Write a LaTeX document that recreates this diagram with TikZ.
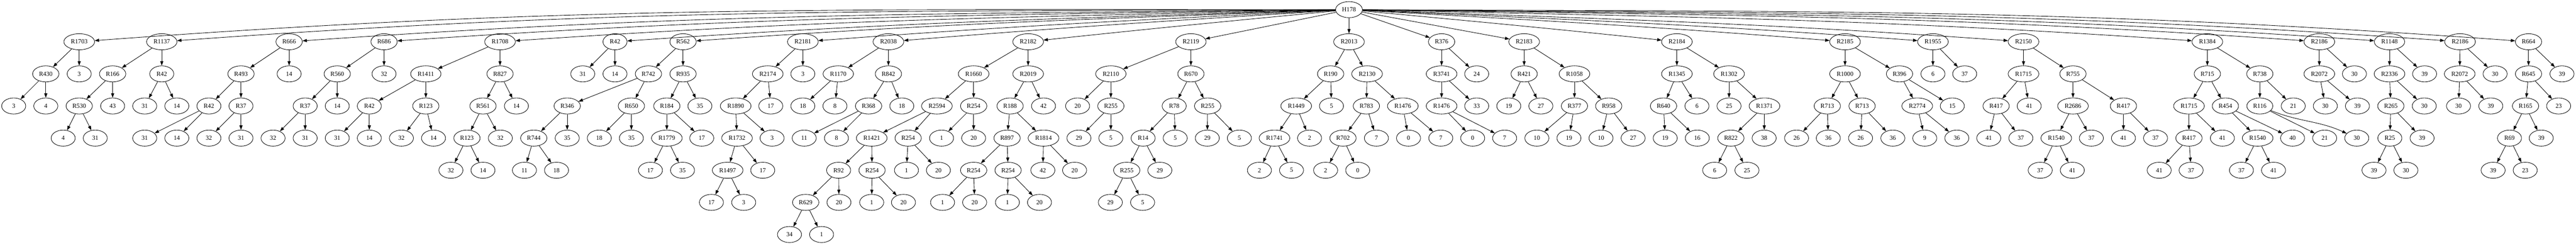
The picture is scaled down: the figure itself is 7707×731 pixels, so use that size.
\documentclass[tikz,border=0pt]{standalone}
\usepackage{fontspec}
\setmainfont{Liberation Serif}
\usetikzlibrary{shapes.geometric,arrows.meta}
\newcommand\nodefont{\fontsize{1.867pt}{2.2pt}\selectfont}
\begin{document}
\begin{tikzpicture}[x=0.1pt,y=-0.1pt,
 nd/.style={draw,ellipse,line width=0.133pt,minimum width=7.2pt,minimum height=4.8pt,inner xsep=0.76pt,inner ysep=0.2pt,font=\nodefont},
 ed/.style={line width=0.133pt,-{Triangle[length=1.33pt,width=0.93pt]}}]
\useasboundingbox (0,0) rectangle (7707,731);
\fill[white] (0,0) rectangle (7707,731);
% rank 0
\node[nd] (h) at (4036,28.8) {H178};
% rank 1
\node[nd] (a1) at (237,124.8) {R1703};
\node[nd] (a2) at (484,124.8) {R1137};
\node[nd] (a3) at (865,124.8) {R666};
\node[nd] (a4) at (1149,124.8) {R686};
\node[nd] (a5) at (1496,124.8) {R1708};
\node[nd] (a6) at (1840,124.8) {R42};
\node[nd] (a7) at (2043.5,124.8) {R562};
\node[nd] (a8) at (2402,124.8) {R2181};
\node[nd] (a9) at (2658,124.8) {R2038};
\node[nd] (a10) at (3076,124.8) {R2182};
\node[nd] (a11) at (3563,124.8) {R2119};
\node[nd] (a12) at (4036,124.8) {R2013};
\node[nd] (a13) at (4313,124.8) {R376};
\node[nd] (a14) at (4560,124.8) {R2183};
\node[nd] (a15) at (5017,124.8) {R2184};
\node[nd] (a16) at (5520,124.8) {R2185};
\node[nd] (a17) at (5783,124.8) {R1955};
\node[nd] (a18) at (6054,124.8) {R2150};
\node[nd] (a19) at (6604,124.8) {R1384};
\node[nd] (a20) at (6939,124.8) {R2186};
\node[nd] (a21) at (7149,124.8) {R1148};
\node[nd] (a22) at (7360,124.8) {R2186};
\node[nd] (a23) at (7565,124.8) {R664};
% rank 2
\node[nd] (b1) at (137,220.8) {R430};
\node[nd] (b2) at (237,220.8) {3};
\node[nd] (b3) at (337,220.8) {R166};
\node[nd] (b4) at (484,220.8) {R42};
\node[nd] (b5) at (721,220.8) {R493};
\node[nd] (b6) at (865,220.8) {14};
\node[nd] (b7) at (1009,220.8) {R560};
\node[nd] (b8) at (1149,220.8) {32};
\node[nd] (b9) at (1274,220.8) {R1411};
\node[nd] (b10) at (1496,220.8) {R827};
\node[nd] (b11) at (1743.5,220.8) {31};
\node[nd] (b12) at (1840,220.8) {14};
\node[nd] (b13) at (1940,220.8) {R742};
\node[nd] (b14) at (2043.5,220.8) {R935};
\node[nd] (b15) at (2297,220.8) {R2174};
\node[nd] (b16) at (2402,220.8) {3};
\node[nd] (b17) at (2508,220.8) {R1170};
\node[nd] (b18) at (2658,220.8) {R842};
\node[nd] (b19) at (2913,220.8) {R1660};
\node[nd] (b20) at (3076,220.8) {R2019};
\node[nd] (b21) at (3323.5,220.8) {R2110};
\node[nd] (b22) at (3563,220.8) {R670};
\node[nd] (b23) at (3981,220.8) {R190};
\node[nd] (b24) at (4090,220.8) {R2130};
\node[nd] (b25) at (4313,220.8) {R3741};
\node[nd] (b26) at (4418,220.8) {24};
\node[nd] (b27) at (4560,220.8) {R421};
\node[nd] (b28) at (4710.5,220.8) {R1058};
\node[nd] (b29) at (5017,220.8) {R1345};
\node[nd] (b30) at (5173,220.8) {R1302};
\node[nd] (b31) at (5520,220.8) {R1000};
\node[nd] (b32) at (5683,220.8) {R396};
\node[nd] (b33) at (5783,220.8) {6};
\node[nd] (b34) at (5878,220.8) {37};
\node[nd] (b35) at (6054,220.8) {R1715};
\node[nd] (b36) at (6202,220.8) {R755};
\node[nd] (b37) at (6604,220.8) {R715};
\node[nd] (b38) at (6761,220.8) {R738};
\node[nd] (b39) at (6939,220.8) {R2072};
\node[nd] (b40) at (7044,220.8) {30};
\node[nd] (b41) at (7149,220.8) {R2336};
\node[nd] (b42) at (7254,220.8) {39};
\node[nd] (b43) at (7359,220.8) {R2072};
\node[nd] (b44) at (7465,220.8) {30};
\node[nd] (b45) at (7565,220.8) {R645};
\node[nd] (b46) at (7665,220.8) {39};
% rank 3
\node[nd] (c1) at (41,316.8) {3};
\node[nd] (c2) at (137,316.8) {4};
\node[nd] (c3) at (237,316.8) {R530};
\node[nd] (c4) at (337,316.8) {43};
\node[nd] (c5) at (433,316.8) {31};
\node[nd] (c6) at (529,316.8) {14};
\node[nd] (c7) at (625,316.8) {R42};
\node[nd] (c8) at (721,316.8) {R37};
\node[nd] (c9) at (913,316.8) {R37};
\node[nd] (c10) at (1009,316.8) {14};
\node[nd] (c11) at (1105,316.8) {R42};
\node[nd] (c12) at (1274,316.8) {R123};
\node[nd] (c13) at (1445,316.8) {R561};
\node[nd] (c14) at (1545,316.8) {14};
\node[nd] (c15) at (1697,316.8) {R346};
\node[nd] (c16) at (1889,316.8) {R650};
\node[nd] (c17) at (1995,316.8) {R184};
\node[nd] (c18) at (2094,316.8) {35};
\node[nd] (c19) at (2201,316.8) {R1890};
\node[nd] (c20) at (2306,316.8) {17};
\node[nd] (c21) at (2402,316.8) {18};
\node[nd] (c22) at (2498,316.8) {8};
\node[nd] (c23) at (2598.6,316.8) {R368};
\node[nd] (c24) at (2698,316.8) {18};
\node[nd] (c25) at (2803,316.8) {R2594};
\node[nd] (c26) at (2913,316.8) {R254};
\node[nd] (c27) at (3022,316.8) {R188};
\node[nd] (c28) at (3122,316.8) {42};
\node[nd] (c29) at (3224,316.8) {20};
\node[nd] (c30) at (3323.5,316.8) {R255};
\node[nd] (c31) at (3513,316.8) {R78};
\node[nd] (c32) at (3613,316.8) {R255};
\node[nd] (c33) at (3878,316.8) {R1449};
\node[nd] (c34) at (3983.5,316.8) {5};
\node[nd] (c35) at (4088,316.8) {R783};
\node[nd] (c36) at (4197,316.8) {R1476};
\node[nd] (c37) at (4313,316.8) {R1476};
\node[nd] (c38) at (4418,316.8) {33};
\node[nd] (c39) at (4514,316.8) {19};
\node[nd] (c40) at (4610,316.8) {27};
\node[nd] (c41) at (4710.5,316.8) {R377};
\node[nd] (c42) at (4813,316.8) {R958};
\node[nd] (c43) at (4977,316.8) {R640};
\node[nd] (c44) at (5077,316.8) {6};
\node[nd] (c45) at (5173,316.8) {25};
\node[nd] (c46) at (5279,316.8) {R1371};
\node[nd] (c47) at (5467,316.8) {R713};
\node[nd] (c48) at (5571,316.8) {R713};
\node[nd] (c49) at (5736,316.8) {R2774};
\node[nd] (c50) at (5841,316.8) {15};
\node[nd] (c51) at (5972,316.8) {R417};
\node[nd] (c52) at (6071,316.8) {41};
\node[nd] (c53) at (6202,316.8) {R2686};
\node[nd] (c54) at (6353,316.8) {R417};
\node[nd] (c55) at (6549,316.8) {R1715};
\node[nd] (c56) at (6658,316.8) {R454};
\node[nd] (c57) at (6761,316.8) {R116};
\node[nd] (c58) at (6861,316.8) {21};
\node[nd] (c59) at (6957,316.8) {30};
\node[nd] (c60) at (7053,316.8) {39};
\node[nd] (c61) at (7153,316.8) {R265};
\node[nd] (c62) at (7253,316.8) {30};
\node[nd] (c63) at (7355.5,316.8) {30};
\node[nd] (c64) at (7452,316.8) {39};
\node[nd] (c65) at (7556,316.8) {R165};
\node[nd] (c66) at (7655,316.8) {23};
% rank 4
\node[nd] (d1) at (189,412.8) {4};
\node[nd] (d2) at (285,412.8) {31};
\node[nd] (d3) at (433,412.8) {31};
\node[nd] (d4) at (529,412.8) {14};
\node[nd] (d5) at (625,412.8) {32};
\node[nd] (d6) at (721,412.8) {31};
\node[nd] (d7) at (817,412.8) {32};
\node[nd] (d8) at (913,412.8) {31};
\node[nd] (d9) at (1009,412.8) {31};
\node[nd] (d10) at (1105,412.8) {14};
\node[nd] (d11) at (1201,412.8) {32};
\node[nd] (d12) at (1297,412.8) {14};
\node[nd] (d13) at (1397,412.8) {R123};
\node[nd] (d14) at (1497,412.8) {32};
\node[nd] (d15) at (1597,412.8) {R744};
\node[nd] (d16) at (1697,412.8) {35};
\node[nd] (d17) at (1793,412.8) {18};
\node[nd] (d18) at (1889,412.8) {35};
\node[nd] (d19) at (1995,412.8) {R1779};
\node[nd] (d20) at (2099.5,412.8) {17};
\node[nd] (d21) at (2205,412.8) {R1732};
\node[nd] (d22) at (2310,412.8) {3};
\node[nd] (d23) at (2406,412.8) {11};
\node[nd] (d24) at (2502.5,412.8) {8};
\node[nd] (d25) at (2608,412.8) {R1421};
\node[nd] (d26) at (2717,412.8) {R254};
\node[nd] (d27) at (2817,412.8) {1};
\node[nd] (d28) at (2913,412.8) {20};
\node[nd] (d29) at (3013,412.8) {R897};
\node[nd] (d30) at (3122,412.8) {R1814};
\node[nd] (d31) at (3228,412.8) {29};
\node[nd] (d32) at (3323.5,412.8) {5};
\node[nd] (d33) at (3420,412.8) {R14};
\node[nd] (d34) at (3516,412.8) {5};
\node[nd] (d35) at (3612,412.8) {29};
\node[nd] (d36) at (3708,412.8) {5};
\node[nd] (d37) at (3813,412.8) {R1741};
\node[nd] (d38) at (3918,412.8) {2};
\node[nd] (d39) at (4018,412.8) {R702};
\node[nd] (d40) at (4118,412.8) {7};
\node[nd] (d41) at (4214,412.8) {0};
\node[nd] (d42) at (4310.6,412.8) {7};
\node[nd] (d43) at (4406,412.8) {0};
\node[nd] (d44) at (4501.6,412.8) {7};
\node[nd] (d45) at (4598,412.8) {10};
\node[nd] (d46) at (4694,412.8) {19};
\node[nd] (d47) at (4790,412.8) {10};
\node[nd] (d48) at (4886,412.8) {27};
\node[nd] (d49) at (4982,412.8) {19};
\node[nd] (d50) at (5078,412.8) {16};
\node[nd] (d51) at (5178.5,412.8) {R822};
\node[nd] (d52) at (5278,412.8) {38};
\node[nd] (d53) at (5375,412.8) {26};
\node[nd] (d54) at (5470,412.8) {36};
\node[nd] (d55) at (5566.5,412.8) {26};
\node[nd] (d56) at (5663,412.8) {36};
\node[nd] (d57) at (5758.5,412.8) {9};
\node[nd] (d58) at (5854.5,412.8) {36};
\node[nd] (d59) at (5950,412.8) {41};
\node[nd] (d60) at (6046,412.8) {37};
\node[nd] (d61) at (6152,412.8) {R1540};
\node[nd] (d62) at (6257,412.8) {37};
\node[nd] (d63) at (6353,412.8) {41};
\node[nd] (d64) at (6449,412.8) {37};
\node[nd] (d65) at (6549,412.8) {R417};
\node[nd] (d66) at (6649,412.8) {41};
\node[nd] (d67) at (6754.5,412.8) {R1540};
\node[nd] (d68) at (6859,412.8) {40};
\node[nd] (d69) at (6955,412.8) {21};
\node[nd] (d70) at (7051,412.8) {30};
\node[nd] (d71) at (7150,412.8) {R25};
\node[nd] (d72) at (7246.5,412.8) {39};
\node[nd] (d73) at (7508,412.8) {R69};
\node[nd] (d74) at (7603,412.8) {39};
% rank 5
\node[nd] (e1) at (1349,508.8) {32};
\node[nd] (e2) at (1445,508.8) {14};
\node[nd] (e3) at (1569,508.8) {11};
\node[nd] (e4) at (1665,508.8) {18};
\node[nd] (e5) at (1946,508.8) {17};
\node[nd] (e6) at (2042,508.8) {35};
\node[nd] (e7) at (2177,508.8) {R1497};
\node[nd] (e8) at (2282,508.8) {17};
\node[nd] (e9) at (2509,508.8) {R92};
\node[nd] (e10) at (2609,508.8) {R254};
\node[nd] (e11) at (2712,508.8) {1};
\node[nd] (e12) at (2807.5,508.8) {20};
\node[nd] (e13) at (2913,508.8) {R254};
\node[nd] (e14) at (3016,508.8) {R254};
\node[nd] (e15) at (3120,508.8) {42};
\node[nd] (e16) at (3215,508.8) {20};
\node[nd] (e17) at (3371,508.8) {R255};
\node[nd] (e18) at (3470,508.8) {29};
\node[nd] (e19) at (3768,508.8) {2};
\node[nd] (e20) at (3864,508.8) {5};
\node[nd] (e21) at (3966,508.8) {2};
\node[nd] (e22) at (4062,508.8) {0};
\node[nd] (e23) at (5130,508.8) {6};
\node[nd] (e24) at (5226.6,508.8) {25};
\node[nd] (e25) at (6104,508.8) {37};
\node[nd] (e26) at (6200,508.8) {41};
\node[nd] (e27) at (6460,508.8) {41};
\node[nd] (e28) at (6555.5,508.8) {37};
\node[nd] (e29) at (6706,508.8) {37};
\node[nd] (e30) at (6802,508.8) {41};
\node[nd] (e31) at (7102.6,508.8) {39};
\node[nd] (e32) at (7198,508.8) {30};
\node[nd] (e33) at (7459,508.8) {39};
\node[nd] (e34) at (7555,508.8) {23};
% rank 6
\node[nd] (f1) at (2128.5,604.8) {17};
\node[nd] (f2) at (2225,604.8) {3};
\node[nd] (f3) at (2410.5,604.8) {R629};
\node[nd] (f4) at (2510,604.8) {20};
\node[nd] (f5) at (2608,604.8) {1};
\node[nd] (f6) at (2703,604.8) {20};
\node[nd] (f7) at (2820,604.8) {1};
\node[nd] (f8) at (2916,604.8) {20};
\node[nd] (f9) at (3014,604.8) {1};
\node[nd] (f10) at (3110,604.8) {20};
\node[nd] (f11) at (3322,604.8) {29};
\node[nd] (f12) at (3418.5,604.8) {5};
% rank 7
\node[nd] (g1) at (2362,700.8) {34};
\node[nd] (g2) at (2458,700.8) {1};
% root edges
\draw[ed] (h) to[out=180.05,in=4.25] (a1);
\draw[ed] (h) to[out=180.25,in=4.14] (a2);
\draw[ed] (h) to[out=180.6,in=3.99] (a3);
\draw[ed] (h) to[out=180.9,in=3.93] (a4);
\draw[ed] (h) to[out=181.3,in=3.89] (a5);
\draw[ed] (h) to[out=181.78,in=3.94] (a6);
\draw[ed] (h) to[out=182.12,in=4.03] (a7);
\draw[ed] (h) to[out=182.88,in=4.32] (a8);
\draw[ed] (h) to[out=183.62,in=4.73] (a9);
\draw[ed] (h) to[out=185.52,in=6.1] (a10);
\draw[ed] (h) -- (a11);
\draw[ed] (h) -- (a12);
\draw[ed] (h) -- (a13);
\draw[ed] (h) -- (a14);
\draw[ed] (h) to[out=-5.39,in=174.0] (a15);
\draw[ed] (h) to[out=-3.29,in=175.47] (a16);
\draw[ed] (h) to[out=-2.62,in=175.8] (a17);
\draw[ed] (h) to[out=-2.08,in=175.99] (a18);
\draw[ed] (h) to[out=-1.27,in=176.11] (a19);
\draw[ed] (h) to[out=-0.87,in=176.07] (a20);
\draw[ed] (h) to[out=-0.66,in=176.01] (a21);
\draw[ed] (h) to[out=-0.46,in=175.96] (a22);
\draw[ed] (h) to[out=-0.27,in=175.87] (a23);
% tree edges
\foreach \p/\c in {a1/b1,a1/b2,b1/c1,b1/c2,
 a2/b3,a2/b4,b3/c3,b3/c4,c3/d1,c3/d2,b4/c5,b4/c6,
 a3/b5,a3/b6,b5/c7,b5/c8,c7/d3,c7/d4,c8/d5,c8/d6,
 a4/b7,a4/b8,b7/c9,b7/c10,c9/d7,c9/d8,
 a5/b9,a5/b10,b9/c11,b9/c12,c11/d9,c11/d10,c12/d11,c12/d12,b10/c13,b10/c14,c13/d13,c13/d14,d13/e1,d13/e2,
 a6/b11,a6/b12,
 a7/b13,a7/b14,b13/c15,b13/c16,c15/d15,c15/d16,d15/e3,d15/e4,c16/d17,c16/d18,b14/c17,b14/c18,c17/d19,c17/d20,d19/e5,d19/e6,
 a8/b15,a8/b16,b15/c19,b15/c20,c19/d21,c19/d22,d21/e7,d21/e8,e7/f1,e7/f2,
 a9/b17,a9/b18,b17/c21,b17/c22,b18/c23,b18/c24,c23/d23,c23/d24,
 a10/b19,a10/b20,b19/c25,b19/c26,c25/d25,c25/d26,d25/e9,d25/e10,e9/f3,e9/f4,f3/g1,f3/g2,e10/f5,e10/f6,d26/e11,d26/e12,c26/d27,c26/d28,b20/c27,b20/c28,c27/d29,c27/d30,d29/e13,d29/e14,e13/f7,e13/f8,e14/f9,e14/f10,d30/e15,d30/e16,
 a11/b21,a11/b22,b21/c29,b21/c30,c30/d31,c30/d32,b22/c31,b22/c32,c31/d33,c31/d34,d33/e17,d33/e18,e17/f11,e17/f12,c32/d35,c32/d36,
 a12/b23,a12/b24,b23/c33,b23/c34,c33/d37,c33/d38,d37/e19,d37/e20,b24/c35,b24/c36,c35/d39,c35/d40,d39/e21,d39/e22,c36/d41,c36/d42,
 a13/b25,a13/b26,b25/c37,b25/c38,c37/d43,c37/d44,
 a14/b27,a14/b28,b27/c39,b27/c40,b28/c41,b28/c42,c41/d45,c41/d46,c42/d47,c42/d48,
 a15/b29,a15/b30,b29/c43,b29/c44,c43/d49,c43/d50,b30/c45,b30/c46,c46/d51,c46/d52,d51/e23,d51/e24,
 a16/b31,a16/b32,b31/c47,b31/c48,c47/d53,c47/d54,c48/d55,c48/d56,b32/c49,b32/c50,c49/d57,c49/d58,
 a17/b33,a17/b34,
 a18/b35,a18/b36,b35/c51,b35/c52,c51/d59,c51/d60,b36/c53,b36/c54,c53/d61,c53/d62,d61/e25,d61/e26,c54/d63,c54/d64,
 a19/b37,a19/b38,b37/c55,b37/c56,c55/d65,c55/d66,d65/e27,d65/e28,c56/d67,c56/d68,d67/e29,d67/e30,b38/c57,b38/c58,c57/d69,
 a20/b39,a20/b40,b39/c59,b39/c60,
 a21/b41,a21/b42,b41/c61,b41/c62,c61/d71,c61/d72,d71/e31,d71/e32,
 a22/b43,a22/b44,b43/c63,b43/c64,
 a23/b45,a23/b46,b45/c65,b45/c66,c65/d73,c65/d74,d73/e33,d73/e34}
 \draw[ed] (\p) -- (\c);
\draw[ed] (c57) .. controls (6877,364) and (6939,361) .. (d70);
\end{tikzpicture}
\end{document}
